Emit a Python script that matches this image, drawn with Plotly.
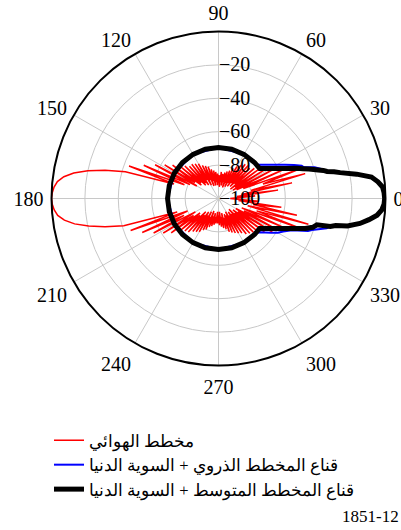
import plotly.graph_objects as go

# ---------------- data ----------------
# antenna pattern (red), dB, theta in degrees (0..358 step 2)
pattern_theta = list(range(0, 360, 2))
pattern_db = [
    -93, -90, -78, -89, -64, -86, -55, -80, -46, -72,   # 0-18
    -50, -84, -58, -88, -63, -90, -67, -88, -70, -91,   # 20-38
    -72, -87, -74, -90, -73, -88, -74, -91, -76, -89,   # 40-58
    -78, -92, -80, -90, -82, -93, -83, -90, -84, -92,   # 60-78
    -85, -90, -84, -93, -86, -91, -85, -92, -84, -90,   # 80-98
    -83, -92, -82, -89, -80, -92, -79, -88, -78, -91,   # 100-118
    -76, -87, -75, -90, -74, -88, -74, -89, -72, -86,   # 120-138
    -70, -87, -66, -83, -62, -85, -57, -81, -51, -78,   # 140-158
    -43, -72, -42, -30, -20, -12, -6.5, -3, -1.3, -0.4, # 160-178
    0, -0.4, -1.4, -3.2, -6.8, -12.5, -20.5, -30, -41, -74,  # 180-198
    -44, -80, -50, -77, -56, -84, -61, -82, -65, -86,   # 200-218
    -69, -85, -72, -89, -73, -87, -75, -90, -76, -88,   # 220-238
    -77, -91, -79, -88, -80, -92, -82, -89, -83, -91,   # 240-258
    -84, -89, -85, -92, -85, -90, -84, -92, -83, -89,   # 260-278
    -82, -91, -81, -88, -79, -90, -78, -89, -77, -91,   # 280-298
    -76, -88, -75, -90, -73, -88, -72, -91, -71, -87,   # 300-318
    -69, -89, -66, -86, -62, -88, -59, -83, -56, -85,   # 320-338
    -48, -76, -44, -82, -52, -79, -62, -88, -76, -90,   # 340-358
]

# peak pattern mask + floor (blue)
peak_mask_theta = [0, 2, 4, 6, 8, 10, 12, 14, 16, 18, 20, 21.5, 24, 27, 30, 33, 36, 39, 42,
                   60, 90, 120, 150, 180, 210, 240, 270, 300, 318,
                   321, 324, 327, 330, 333, 336, 338, 340, 341.3, 344.6, 346, 348, 350, 352, 354, 356, 358, 360]
peak_mask_db = [-0.5, -0.8, -1.5, -4, -7.5, -16, -25.5, -33, -36, -39.5, -45.5, -46.5, -50.5, -55.4, -59.5, -62.9, -65.6, -67.8, -69.5,
                -69.5, -69.5, -69.5, -69.5, -69.5, -69.5, -69.5, -69.5, -69.5, -69.5,
                -67.8, -65.4, -62.4, -59, -56.5, -53, -49, -43, -41, -32.8, -31, -21, -14, -9, -4.5, -2, -0.8, -0.5]

# average pattern mask + floor (black)
avg_mask_theta = [0, 2, 4, 6, 8, 10, 12, 13, 14, 15, 16, 18, 19.5, 21, 24, 27, 30, 33, 36,
                  45, 60, 75, 90, 105, 120, 135, 150, 165, 180, 195, 210, 225, 240, 255, 270, 285, 300, 315,
                  324, 327, 330, 333, 336, 339, 341, 343, 345, 346, 347, 348, 350, 352, 354, 356, 358, 360]
avg_mask_db = [-0.5, -0.8, -1.5, -4, -7.5, -16, -25.5, -29, -33, -35, -38, -43, -46.5, -49.5, -55.8, -60.4, -64.1, -67, -69.5,
               -69.5, -69.5, -69.5, -69.5, -69.5, -69.5, -69.5, -69.5, -69.5, -69.5, -69.5, -69.5, -69.5, -69.5, -69.5, -69.5, -69.5, -69.5, -69.5,
               -69.5, -67, -64, -60.4, -55.8, -50, -45, -41, -39, -31, -28, -21, -14, -9, -4.5, -2, -0.8, -0.5]

angle_ticks = [0, 30, 60, 90, 120, 150, 180, 210, 240, 270, 300, 330]
radial_ticks = [-100, -80, -60, -40, -20]

legend_names = ["مخطط الهوائي",
                "قناع المخطط الذروي + السوية الدنيا",
                "قناع المخطط المتوسط + السوية الدنيا"]
figure_id = "1851-12"

# ---------------- figure ----------------
W, H = 401, 530
cx, cy, R = 218.5, 198.5, 167.0
serif = "Liberation Serif, Times New Roman, Times, serif"

fig = go.Figure()
fig.add_trace(go.Scatterpolar(r=pattern_db + [pattern_db[0]], theta=pattern_theta + [360],
                              mode="lines", line=dict(color="#ff0000", width=1.5),
                              name=legend_names[0]))
fig.add_trace(go.Scatterpolar(r=peak_mask_db, theta=peak_mask_theta, mode="lines",
                              line=dict(color="#0000ff", width=2), name=legend_names[1]))
fig.add_trace(go.Scatterpolar(r=avg_mask_db, theta=avg_mask_theta, mode="lines",
                              line=dict(color="#000000", width=5), name=legend_names[2]))

fig.update_layout(
    width=W, height=H,
    margin=dict(l=0, r=0, t=0, b=0),
    paper_bgcolor="white",
    font=dict(family=serif, size=20, color="black"),
    showlegend=True,
    legend=dict(x=49 / W, xanchor="left", y=1 - 423 / H, yanchor="top",
                font=dict(family=serif, size=16.5, color="black"),
                bgcolor="rgba(0,0,0,0)", tracegroupgap=0, itemwidth=30),
    polar=dict(
        domain=dict(x=[(cx - R) / W, (cx + R) / W], y=[1 - (cy + R) / H, 1 - (cy - R) / H]),
        bgcolor="white",
        angularaxis=dict(direction="counterclockwise", rotation=0,
                         tickmode="array", tickvals=angle_ticks,
                         ticktext=[str(a) for a in angle_ticks],
                         showgrid=True, gridcolor="#c8c8c8", gridwidth=1,
                         showline=True, linecolor="black", linewidth=2,
                         ticks="outside", ticklen=3, tickcolor="rgba(0,0,0,0)",
                         tickfont=dict(family=serif, size=20)),
        radialaxis=dict(range=[-100, 0], tickmode="array", tickvals=radial_ticks,
                        ticktext=["\u2212" + str(abs(v)) for v in radial_ticks],
                        angle=90, tickangle=90, showline=False, ticks="",
                        showgrid=True, gridcolor="#c8c8c8", gridwidth=1,
                        tickfont=dict(family=serif, size=20)),
    ),
    annotations=[dict(text=figure_id, x=1, xref="paper", xanchor="right",
                      y=0, yref="paper", yanchor="bottom", yshift=2, showarrow=False,
                      font=dict(family=serif, size=17, color="black"))],
)

fig.write_html("out.html", post_script="document.body.style.margin='0';",
               config={"displayModeBar": False})
